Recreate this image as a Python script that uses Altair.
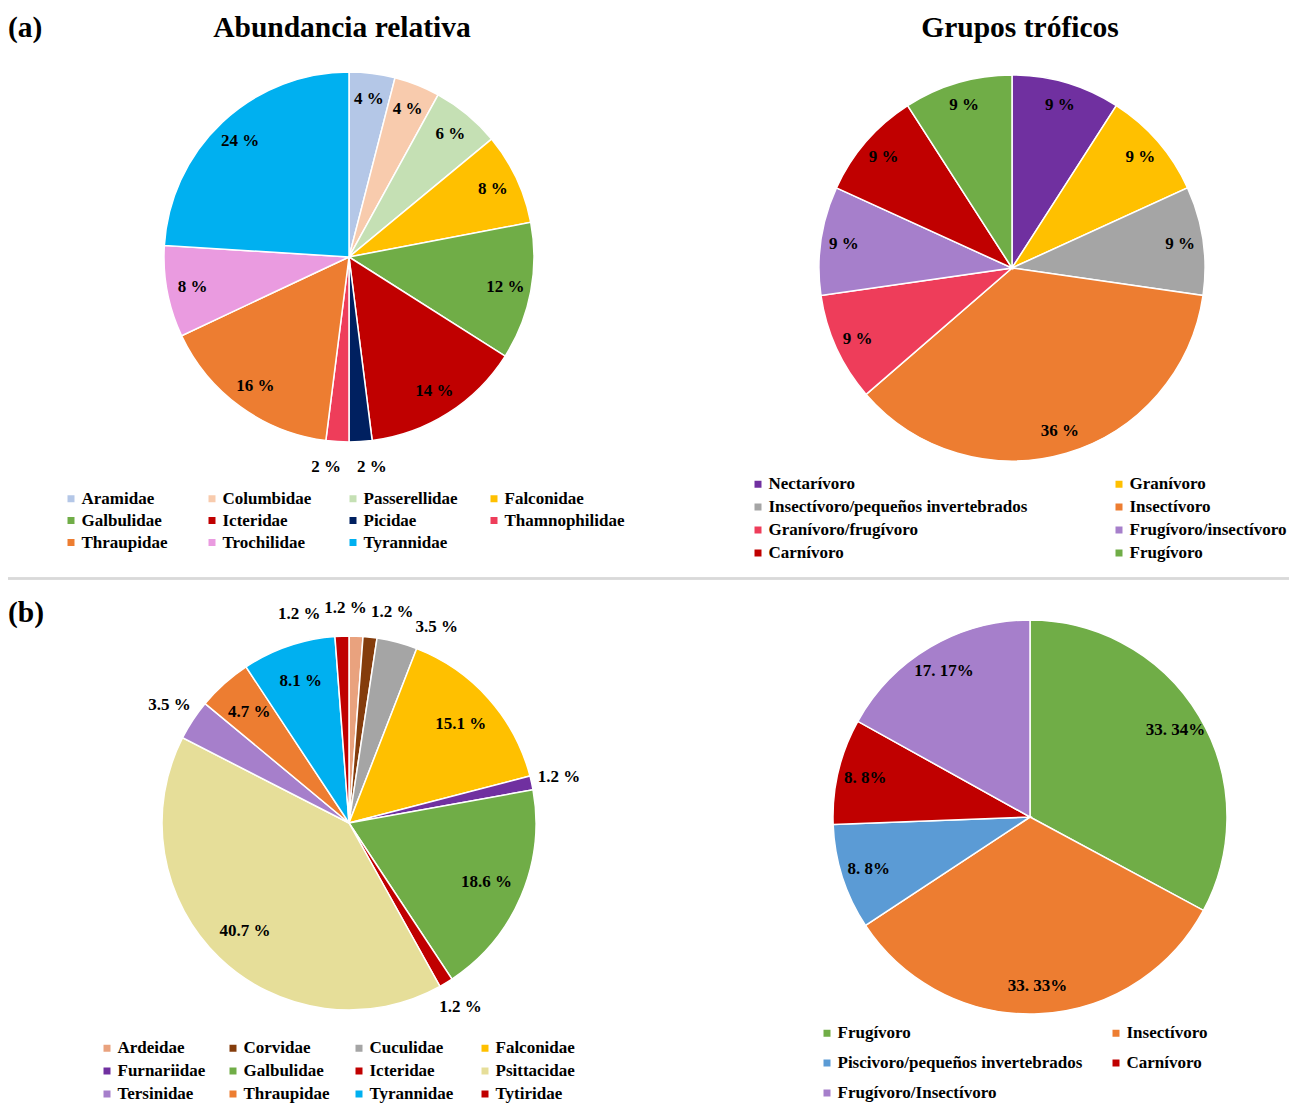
import altair as alt
import pandas as pd

# ---------------- data ----------------
a_fam_names = ["Aramidae", "Columbidae", "Passerellidae", "Falconidae", "Galbulidae",
               "Icteridae", "Picidae", "Thamnophilidae", "Thraupidae", "Trochilidae", "Tyrannidae"]
a_fam_values = [4, 4, 6, 8, 12, 14, 2, 2, 16, 8, 24]
a_fam_labels = ["4 %", "4 %", "6 %", "8 %", "12 %", "14 %", "2 %", "2 %", "16 %", "8 %", "24 %"]
a_fam_colors = ["#B4C7E7", "#F8CBAD", "#C5E0B4", "#FFC000", "#70AD47",
                "#C00000", "#002060", "#EE3D5A", "#ED7D31", "#EA9BE0", "#00B0F0"]

a_tro_names = ["Nectarívoro", "Granívoro", "Insectívoro/pequeños invertebrados", "Insectívoro",
               "Granívoro/frugívoro", "Frugívoro/insectívoro", "Carnívoro", "Frugívoro"]
a_tro_values = [9, 9, 9, 36, 9, 9, 9, 9]
a_tro_labels = ["9 %", "9 %", "9 %", "36 %", "9 %", "9 %", "9  %", "9 %"]
a_tro_colors = ["#7030A0", "#FFC000", "#A5A5A5", "#ED7D31", "#EE3D5A", "#A67FCB", "#C00000", "#70AD47"]

b_fam_names = ["Ardeidae", "Corvidae", "Cuculidae", "Falconidae", "Furnariidae", "Galbulidae",
               "Icteridae", "Psittacidae", "Tersinidae", "Thraupidae", "Tyrannidae", "Tytiridae"]
b_fam_values = [1.2, 1.2, 3.5, 15.1, 1.2, 18.6, 1.2, 40.7, 3.5, 4.7, 8.1, 1.2]
b_fam_labels = ["1.2 %", "1.2 %", "3.5 %", "15.1 %", "1.2 %", "18.6 %",
                "1.2 %", "40.7 %", "3.5 %", "4.7 %", "8.1 %", "1.2 %"]
b_fam_colors = ["#E9A27E", "#843C0C", "#A5A5A5", "#FFC000", "#7030A0", "#70AD47",
                "#C00000", "#E6DE99", "#A67FCB", "#ED7D31", "#00B0F0", "#C00000"]

b_tro_names = ["Frugívoro", "Insectívoro", "Piscivoro/pequeños invertebrados", "Carnívoro",
               "Frugívoro/Insectívoro"]
b_tro_values = [33.34, 33.33, 8.8, 8.8, 17.17]
b_tro_labels = ["33. 34%", "33. 33%", "8. 8%", "8. 8%", "17. 17%"]
b_tro_colors = ["#70AD47", "#ED7D31", "#5B9BD5", "#C00000", "#A67FCB"]

FONT = "Liberation Serif"


def label_positions(values, outside, min_gap_deg=12.5):
    """Mid-angle of each slice (in value units); outside labels are spread apart."""
    total = float(sum(values))
    mids, c = [], 0.0
    for v in values:
        mids.append(c + v / 2.0)
        c += v
    ang = [m / total * 360.0 for m in mids]
    ang = [a - 360.0 if a > 270.0 else a for a in ang]
    out_idx = sorted([i for i in range(len(values)) if outside[i]], key=lambda i: ang[i])
    pos = {i: ang[i] for i in out_idx}
    for _ in range(300):
        moved = False
        for k in range(len(out_idx) - 1):
            i, j = out_idx[k], out_idx[k + 1]
            gap = pos[j] - pos[i]
            if gap < min_gap_deg:
                d = (min_gap_deg - gap) / 2.0
                pos[i] -= d
                pos[j] += d
                moved = True
        if not moved:
            break
    res = []
    for i in range(len(values)):
        a = pos.get(i, ang[i])
        res.append((a % 360.0) / 360.0 * total)
    return res


def pie(names, values, labels, colors, cx, cy, r, in_frac, out_frac, legend):
    total = float(sum(values))
    outside = [v < 4 for v in values]
    df = pd.DataFrame({
        "name": names, "value": values, "label": labels,
        "idx": list(range(len(names))),
        "pos": label_positions(values, outside),
        "outside": outside,
    })
    base = alt.Chart(df)
    arc = base.mark_arc(radius=r, stroke="white", strokeWidth=1.5).encode(
        theta=alt.Theta("value:Q", stack=True, scale=alt.Scale(domain=[0, total])),
        order=alt.Order("idx:Q"),
        color=alt.Color("name:N", scale=alt.Scale(domain=names, range=colors),
                        legend=alt.Legend(**legend)),
        x=alt.value(cx), y=alt.value(cy),
    )
    tstyle = dict(font=FONT, fontSize=17, fontWeight="bold", color="black",
                  align="center", baseline="middle")
    t_in = base.transform_filter("!datum.outside").mark_text(radius=r * in_frac, **tstyle).encode(
        theta=alt.Theta("pos:Q", stack=False, scale=alt.Scale(domain=[0, total])),
        text="label:N", x=alt.value(cx), y=alt.value(cy))
    t_out = base.transform_filter("datum.outside").mark_text(radius=r * out_frac, **tstyle).encode(
        theta=alt.Theta("pos:Q", stack=False, scale=alt.Scale(domain=[0, total])),
        text="label:N", x=alt.value(cx), y=alt.value(cy))
    return [arc, t_in, t_out]


def leg(x, y, columns, colpad, rowpad, grid="all"):
    return dict(title=None, orient="none", legendX=x, legendY=y, columns=columns,
                direction="horizontal",
                gridAlign=grid, columnPadding=colpad, rowPadding=rowpad,
                symbolType="square", symbolSize=49, symbolStrokeWidth=0,
                labelFont=FONT, labelFontSize=17, labelFontWeight="bold",
                labelColor="black", labelOffset=2, labelLimit=500, padding=0)


layers = []
layers += pie(a_fam_names, a_fam_values, a_fam_labels, a_fam_colors,
              341, 249, 185, 0.86, 1.14, leg(54.5, 482, 4, 2, 4))
layers += pie(a_tro_names, a_tro_values, a_tro_labels, a_tro_colors,
              1004, 260, 193, 0.88, 1.14, leg(741.5, 467.5, 2, 83, 5, "each"))
layers += pie(b_fam_names, b_fam_values, b_fam_labels, b_fam_colors,
              341, 815, 187, 0.80, 1.15, leg(90.5, 1031.5, 4, 19, 5))
layers += pie(b_tro_names, b_tro_values, b_tro_labels, b_tro_colors,
              1022, 809, 197, 0.86, 1.14, leg(810.5, 1016.5, 2, 25, 12, "each"))

titles = pd.DataFrame({
    "text": ["(a)", "Abundancia relativa", "Grupos tróficos", "(b)"],
})

sep = alt.Chart(titles).mark_rule(color="#D9D9D9", strokeWidth=2).encode(
    x=alt.value(0), x2=alt.value(1281), y=alt.value(570.5))

def title_text(t, x, y, align):
    return alt.Chart(titles).transform_filter(alt.datum.text == t).mark_text(
        font=FONT, fontSize=29.5, fontWeight="bold", color="black", align=align,
        baseline="alphabetic").encode(text="text:N", x=alt.value(x), y=alt.value(y))

tt = [
    title_text("(a)", 0, 29, "left"),
    title_text("Abundancia relativa", 334, 29, "center"),
    title_text("Grupos tróficos", 1012, 29, "center"),
    title_text("(b)", 0, 614, "left"),
]

chart = alt.layer(sep, *tt, *layers).resolve_scale(
    theta="independent", color="independent"
).properties(
    width=1281, height=1096, padding=0,
    autosize=alt.AutoSizeParams(type="none"),
).configure_view(stroke=None)

chart.save("out.html", embed_options={"renderer": "svg", "actions": False})
